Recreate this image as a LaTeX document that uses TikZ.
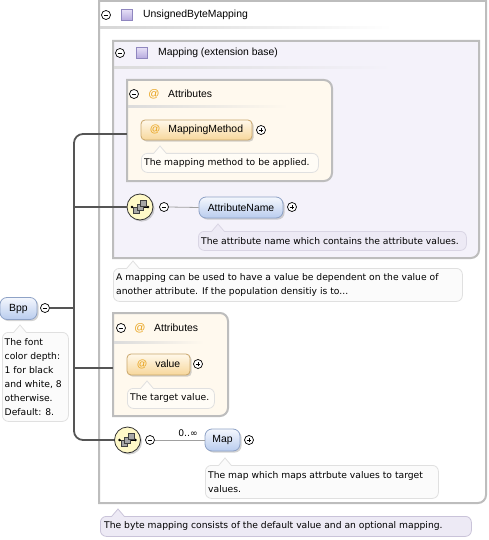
\documentclass[tikz,border=0pt]{standalone}
\usepackage{fontspec}
\setmainfont{Liberation Sans}
\newfontfamily\docfont{DejaVu Sans}
\usetikzlibrary{shadows}
\definecolor{boxgray}{HTML}{BDBDBD}
\definecolor{lav}{HTML}{F4F2FA}
\definecolor{cream}{HTML}{FFF9EE}
\definecolor{elemtop}{HTML}{F4F7FD}
\definecolor{elembot}{HTML}{B9CCEE}
\definecolor{elemborder}{HTML}{8EA2C6}
\definecolor{attrtop}{HTML}{FFF8EA}
\definecolor{attrbot}{HTML}{F7D79B}
\definecolor{attrborder}{HTML}{C9A66B}
\definecolor{atcol}{HTML}{E8A21A}
\definecolor{docfill}{HTML}{FBFBFB}
\definecolor{docfillc}{HTML}{FFFCF6}
\definecolor{docborder}{HTML}{E0E0E0}
\definecolor{doclav}{HTML}{EDEAF5}
\definecolor{doclavborder}{HTML}{C9C3D9}
\definecolor{conn}{HTML}{555555}
\definecolor{thinconn}{HTML}{A0A0A0}
\definecolor{choicefill}{HTML}{FFF9C8}
\definecolor{sqtop}{HTML}{E6E0F6}
\definecolor{sqbot}{HTML}{B5A9DE}
\definecolor{sqborder}{HTML}{8F86BF}
\newcommand\mydocptr[4]{%
  \fill[#3] (#1-6.5,#2+1.3) -- (#1,#2-7) -- (#1+6.5,#2+1.3) -- cycle;
  \draw[#4, line width=0.8pt] (#1-6,#2) -- (#1,#2-7) -- (#1+6,#2);
}
\tikzset{
  choiceicon/.pic={
    \draw[line width=0.7pt] (-8,0) -- (8,0);
    \fill (-8,0) circle (1.3pt) (8,0) circle (1.3pt);
    \foreach \a/\b in {-3.5/3.5, 0/0, 3.5/-3.5}
      \filldraw[fill=gray!70, draw=black!75, line width=0.5pt] (\a-3,\b-3) rectangle (\a+3,\b+3);
  }
}
\begin{document}
\begin{tikzpicture}[x=1pt,y=-1pt,
  boxline/.style={draw=boxgray, line width=2pt},
  lbl/.style={inner sep=0, anchor=west, font=\fontsize{10.4}{12}\selectfont},
  elem/.style={draw=elemborder, line width=0.8pt, rounded corners=7pt, top color=elemtop, bottom color=elembot, inner sep=0, font=\fontsize{10.4}{12}\selectfont, drop shadow={shadow xshift=1.6pt, shadow yshift=-1.6pt, opacity=0.35}},
  attrnode/.style={draw=attrborder, line width=0.8pt, rounded corners=4pt, top color=attrtop, bottom color=attrbot, inner sep=0, font=\fontsize{10.4}{12}\selectfont, drop shadow={shadow xshift=1.6pt, shadow yshift=-1.6pt, opacity=0.35}},
  pmbase/.style={circle, draw=black, fill=white, line width=0.7pt, minimum size=9pt, inner sep=0},
  minusn/.style={pmbase, path picture={\draw[line width=0.7pt] ([xshift=-2.4pt]path picture bounding box.center) -- ([xshift=2.4pt]path picture bounding box.center);}},
  plusn/.style={pmbase, path picture={\draw[line width=0.7pt] ([xshift=-2.4pt]path picture bounding box.center) -- ([xshift=2.4pt]path picture bounding box.center) ([yshift=-2.4pt]path picture bounding box.center) -- ([yshift=2.4pt]path picture bounding box.center);}},
  choice/.style={circle, minimum size=26pt, inner sep=0, draw=black!80, line width=0.8pt, fill=choicefill, drop shadow={shadow xshift=1.6pt, shadow yshift=-1.6pt, opacity=0.35}},
  sqicon/.style={rectangle, minimum size=11pt, inner sep=0, draw=sqborder, line width=0.6pt, top color=sqtop, bottom color=sqbot},
  atsign/.style={inner sep=0, text=atcol, font=\fontsize{11}{12}\selectfont},
  docbox/.style={draw=docborder, fill=docfill, rounded corners=6pt, line width=0.8pt, inner sep=0, anchor=north west},
  doctext/.style={inner xsep=0, inner ysep=0, anchor=west, align=left, font=\docfont\fontsize{9.2}{14.6}\selectfont},
  conline/.style={draw=conn, line width=1.8pt},
  thinline/.style={draw=thinconn, line width=0.8pt}
]
\useasboundingbox (0,0) rectangle (489,540);

% outer box (UnsignedByteMapping)
\filldraw[boxline, fill=white] (99,503) -- (99,1) -- (486,1) -- (486,250) [rounded corners=8pt] -- (486,503) -- (300,503) [sharp corners] -- (99,503) -- cycle;
\shade[left color=black!16, right color=white] (100,27) rectangle (392,29);
\node[minusn] (m0) at (106,15) {};
\node[sqicon] (sq0) at (127,15) {};
\node[lbl] (t0) at (143,15) {UnsignedByteMapping};

% inner box (Mapping extension base)
\filldraw[boxline, fill=lav] (113,258) -- (113,41) -- (479,41) -- (479,150) [rounded corners=8pt] -- (479,258) -- (300,258) [sharp corners] -- (113,258) -- cycle;
\shade[left color=black!14, right color=lav] (114,67) rectangle (392,69);
\node[minusn] (m1) at (120,53) {};
\node[sqicon] (sq1) at (142,53) {};
\node[lbl] (t1) at (158,53) {Mapping (extension base)};

% attributes box A
\filldraw[boxline, fill=cream] (127,181) -- (127,80) -- (250,80) [rounded corners=8pt] -- (332,80) -- (332,181) -- (250,181) [sharp corners] -- (127,181) -- cycle;
\node[inner sep=0, minimum width=205pt, minimum height=101pt] (attrA) at (229.5,130.5) {};
\shade[left color=black!14, right color=cream] (128,106) rectangle (288,108);
\node[minusn] (m2) at (134,94) {};
\node[atsign] (at2) at (154,94) {@};
\node[lbl] (t2) at (168,94) {Attributes};
\node[attrnode, minimum width=111pt, minimum height=20pt] (mm) at (196.5,130)
  {\textcolor{atcol}{@}\hspace{8pt}MappingMethod\hspace{2pt}};
\node[plusn] (pmm) at (261,130) {};
\node[docbox, fill=docfillc, minimum width=177pt, minimum height=19pt] (dmm) at (141,153) {};
\mydocptr{160}{153}{docfillc}{docborder}
\node[doctext] (dmmt) at ([xshift=3pt]dmm.west) {The mapping method to be applied.};

% choice 1 with AttributeName
\node[choice] (ch1) at (140,207) {};
\pic at (ch1) {choiceicon};
\node[minusn] (ch1m) at (164,207) {};
\node[elem, minimum width=84pt, minimum height=21pt] (an) at (241,207.5) {AttributeName};
\node[plusn] (pan) at (292,207) {};
\draw[thinline] (ch1m.east) -- (an.west);
\node[docbox, draw=doclavborder!70, fill=doclav, minimum width=268pt, minimum height=19pt] (dan) at (198,231) {};
\mydocptr{218}{231}{doclav}{doclavborder!70}
\node[doctext] (dant) at ([xshift=3pt]dan.west) {The attribute name which contains the attribute values.};

% mapping documentation
\node[docbox, minimum width=349pt, minimum height=33pt] (dmap) at (113,268) {};
\mydocptr{133}{268}{docfill}{docborder}
\node[doctext] (dmapt) at ([xshift=3pt]dmap.west) {A mapping can be used to have a value be dependent on the value of\\another attribute. If the population densitiy is to...};

% attributes box B
\filldraw[boxline, fill=cream] (113,416) -- (113,313) -- (170,313) [rounded corners=8pt] -- (228,313) -- (228,416) -- (170,416) [sharp corners] -- (113,416) -- cycle;
\node[inner sep=0, minimum width=115pt, minimum height=103pt] (attrB) at (170.5,364.5) {};
\shade[left color=black!14, right color=cream] (114,341) rectangle (204,343);
\node[minusn] (m3) at (121,328) {};
\node[atsign] (at3) at (140,328) {@};
\node[lbl] (t3) at (154,328) {Attributes};
\node[attrnode, minimum width=63pt, minimum height=21pt] (val) at (158.5,364.5)
  {\textcolor{atcol}{@}\hspace{8pt}value\hspace{4pt}};
\node[plusn] (pval) at (198,364) {};
\node[docbox, fill=docfillc, minimum width=87pt, minimum height=20pt] (dval) at (127,388) {};
\mydocptr{147}{388}{docfillc}{docborder}
\node[doctext] (dvalt) at ([xshift=3pt]dval.west) {The target value.};

% choice 2 with Map
\node[choice] (ch2) at (127.5,440) {};
\pic at (ch2) {choiceicon};
\node[minusn] (ch2m) at (150,440) {};
\node[elem, minimum width=35pt, minimum height=22pt] (map) at (222.5,440) {Map};
\node[plusn] (pmap) at (249,440) {};
\draw[thinline] (ch2m.east) -- (map.west);
\node[inner sep=0, font=\docfont\fontsize{9.2}{11}\selectfont] (card) at (188,433) {0..∞};
\node[docbox, minimum width=233pt, minimum height=33pt] (dm) at (205,465) {};
\mydocptr{225}{465}{docfill}{docborder}
\node[doctext] (dmt) at ([xshift=3pt]dm.west) {The map which maps attrbute values to target\\values.};

% bottom documentation
\node[docbox, draw=doclavborder, fill=doclav, minimum width=371pt, minimum height=20pt] (dbot) at (100,516) {};
\mydocptr{118}{516}{doclav}{doclavborder}
\node[doctext] (dbott) at ([xshift=4pt]dbot.west) {The byte mapping consists of the default value and an optional mapping.};

% Bpp
\node[elem, minimum width=37pt, minimum height=22pt] (bpp) at (18.5,308.5) {Bpp};
\node[minusn] (bppm) at (45,308) {};
\node[docbox, minimum width=66pt, minimum height=89pt] (dbpp) at (2,332) {};
\mydocptr{20}{332}{docfill}{docborder}
\node[doctext, font=\docfont\fontsize{9.2}{13.9}\selectfont] (dbppt) at ([xshift=2.5pt]dbpp.west) {The font\\color depth:\\1 for black\\and white, 8\\otherwise.\\Default: 8.};

% connectors
\coordinate (jA) at (74,134);
\coordinate (jC1) at (74,207);
\coordinate (jB) at (74,308);
\coordinate (jAB) at (74,368);
\coordinate (jC2) at (74,440);
\draw[conline, rounded corners=9pt] ([yshift=-3.5pt]attrA.west) -- (jA) -- (jC2) -- (ch2.west);
\draw[conline] (jC1) -- (ch1.west);
\draw[conline] ([yshift=-3.5pt]attrB.west) -- (jAB);
\draw[conline, line width=2.4pt] (bppm.east) -- (jB);
\end{tikzpicture}
\end{document}
